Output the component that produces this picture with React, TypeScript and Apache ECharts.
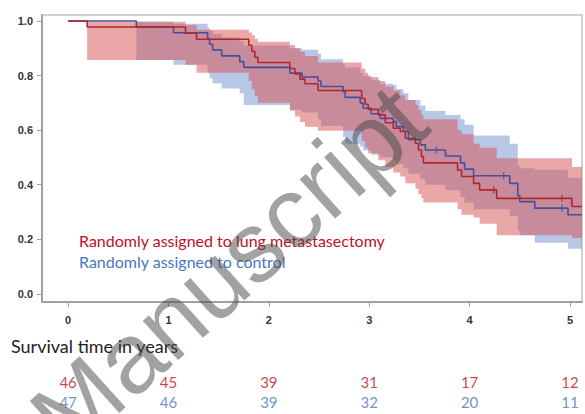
import React, { useEffect, useRef } from "react";
import * as echarts from "echarts";

// ---------- data ----------
const xTickValues = [0, 1, 2, 3, 4, 5];
const yTickValues = [0, 0.2, 0.4, 0.6, 0.8, 1.0];

// Randomly assigned to lung metastasectomy (red)
const redTime = [0, 0.19, 1.17, 1.28, 1.8, 1.83, 1.86, 1.89, 2.21, 2.26, 2.31, 2.36, 2.49, 2.925, 2.96, 2.99, 3.09, 3.16, 3.24, 3.31, 3.36, 3.46, 3.49, 3.52, 3.54, 3.88, 3.92, 4.04, 4.1, 4.27, 5.02, 5.12];
const redSurv = [1.0, 0.978, 0.955, 0.933, 0.911, 0.889, 0.867, 0.848, 0.826, 0.806, 0.787, 0.77, 0.745, 0.716, 0.695, 0.676, 0.656, 0.627, 0.607, 0.595, 0.57, 0.552, 0.527, 0.503, 0.48, 0.454, 0.43, 0.405, 0.381, 0.35, 0.32, 0.32];
const redLower = [1.0, 0.857, 0.84, 0.81, 0.78, 0.75, 0.725, 0.7, 0.672, 0.65, 0.63, 0.612, 0.598, 0.56, 0.535, 0.515, 0.49, 0.466, 0.445, 0.43, 0.405, 0.385, 0.365, 0.35, 0.335, 0.31, 0.29, 0.28, 0.257, 0.215, 0.205, 0.205];
const redUpper = [1.0, 0.997, 0.985, 0.968, 0.958, 0.948, 0.935, 0.924, 0.912, 0.9, 0.887, 0.872, 0.848, 0.825, 0.81, 0.795, 0.78, 0.76, 0.745, 0.728, 0.71, 0.692, 0.674, 0.655, 0.64, 0.6, 0.585, 0.55, 0.535, 0.497, 0.465, 0.465];

// Randomly assigned to control (blue)
const blueTime = [0, 0.68, 1.05, 1.39, 1.41, 1.44, 1.53, 1.71, 1.75, 2.21, 2.33, 2.49, 2.52, 2.74, 2.76, 2.91, 2.94, 3.02, 3.11, 3.24, 3.27, 3.34, 3.39, 3.51, 3.56, 3.76, 3.91, 3.95, 4.04, 4.4, 4.48, 4.5, 4.65, 4.98, 5.12];
const blueSurv = [1.0, 0.979, 0.957, 0.936, 0.915, 0.894, 0.872, 0.851, 0.83, 0.809, 0.795, 0.78, 0.76, 0.741, 0.72, 0.7, 0.68, 0.66, 0.643, 0.631, 0.613, 0.595, 0.565, 0.546, 0.527, 0.505, 0.48, 0.457, 0.433, 0.405, 0.36, 0.338, 0.314, 0.29, 0.29];
const blueLower = [1.0, 0.857, 0.84, 0.81, 0.79, 0.772, 0.753, 0.735, 0.692, 0.674, 0.665, 0.64, 0.615, 0.575, 0.55, 0.54, 0.525, 0.51, 0.5, 0.49, 0.475, 0.46, 0.44, 0.42, 0.4, 0.38, 0.355, 0.335, 0.31, 0.285, 0.23, 0.215, 0.187, 0.165, 0.165];
const blueUpper = [1.0, 0.997, 0.99, 0.975, 0.965, 0.952, 0.94, 0.925, 0.91, 0.9, 0.895, 0.88, 0.86, 0.84, 0.83, 0.81, 0.8, 0.785, 0.77, 0.765, 0.75, 0.735, 0.71, 0.69, 0.67, 0.655, 0.64, 0.62, 0.58, 0.55, 0.47, 0.46, 0.455, 0.425, 0.425];

const redCensorTime = [4.24, 4.92];
const redCensorSurv = [0.381, 0.35];
const blueCensorTime = [3.67, 4.34, 4.92];
const blueCensorSurv = [0.527, 0.433, 0.314];

// number at risk
const riskTimes = [0, 1, 2, 3, 4, 5];
const riskRed = [46, 45, 39, 31, 17, 12];
const riskBlue = [47, 46, 39, 32, 20, 11];

const legendRed = "Randomly assigned to lung metastasectomy";
const legendBlue = "Randomly assigned to control";
const xTitle = "Survival time in years";
const watermark = "Manuscript";

// ---------- styles ----------
const RED_LINE = "#b3262b";
const BLUE_LINE = "#44509c";
const RED_TEXT = "#c0121c";
const BLUE_TEXT = "#4a78bd";
const SANS = "Lato, 'Noto Sans', sans-serif";

const pts = (t: number[], v: number[]) => t.map((x, i) => [x, v[i]]);

// stepped confidence band drawn as one polygon through the axis scales
function band(name: string, t: number[], lo: number[], hi: number[], color: string, opacity: number): any {
  return {
    type: "custom", name, silent: true, z: 1,
    data: t.map((x, i) => [x, lo[i], hi[i]]),
    encode: { x: 0, y: [1, 2] },
    renderItem: (params: any, api: any) => {
      if (params.dataIndex !== 0) return null;
      const n = t.length;
      const top: number[][] = [];
      const bottom: number[][] = [];
      for (let i = 0; i < n; i++) {
        const x0 = t[i];
        const x1 = i < n - 1 ? t[i + 1] : t[i];
        top.push(api.coord([x0, hi[i]]), api.coord([x1, hi[i]]));
        bottom.push(api.coord([x0, lo[i]]), api.coord([x1, lo[i]]));
      }
      const points = top.concat(bottom.reverse());
      return { type: "polygon", shape: { points }, style: { fill: color, opacity } };
    },
  };
}

function kmLine(name: string, t: number[], s: number[], color: string): any {
  return {
    type: "line", name, data: pts(t, s), step: "end", symbol: "none",
    lineStyle: { color, width: 1.6 }, z: 3, silent: true, emphasis: { disabled: true },
  };
}

function censor(name: string, t: number[], s: number[], color: string): any {
  return {
    type: "scatter", name, data: pts(t, s), symbol: "rect", symbolSize: [1.4, 7],
    itemStyle: { color }, z: 4, silent: true,
  };
}

function riskRow(label: string, counts: number[], color: string): any {
  return {
    type: "scatter", xAxisIndex: 1, yAxisIndex: 1, symbolSize: 0,
    data: riskTimes.map((t, i) => [t, label, counts[i]]),
    label: {
      show: true, position: "inside", formatter: (p: any) => String(p.value[2]),
      color, fontSize: 15, fontFamily: SANS,
    },
    silent: true,
  };
}

export default function App() {
  const ref = useRef<HTMLDivElement>(null);
  useEffect(() => {
    if (!ref.current) return;
    const chart = echarts.init(ref.current, null, { renderer: "svg" });
    const axisLabelStyle = { color: "#333", fontWeight: "bold" as const, fontSize: 11, fontFamily: "'Liberation Sans', Arial, sans-serif" };
    chart.setOption({
      animation: false,
      backgroundColor: "#ffffff",
      grid: [
        { left: 42, right: 3, top: 15, bottom: 112, show: true, borderColor: "#c4c4c4", borderWidth: 1.5, backgroundColor: "transparent" },
        { left: 42, right: 3, top: 372, height: 40 },
      ],
      xAxis: [
        {
          type: "value", min: -0.26, max: 5.12, gridIndex: 0,
          axisLine: { show: true, onZero: false, lineStyle: { color: "#a0a0a0", width: 2 } },
          axisTick: { show: true, customValues: xTickValues, length: 5, lineStyle: { color: "#a0a0a0" } },
          axisLabel: { customValues: xTickValues, formatter: (v: number) => String(v), margin: 12, ...axisLabelStyle },
          splitLine: { show: false },
        },
        { type: "value", min: -0.26, max: 5.12, gridIndex: 1, show: false },
      ],
      yAxis: [
        {
          type: "value", min: -0.03, max: 1.022, gridIndex: 0,
          axisLine: { show: true, onZero: false, lineStyle: { color: "#a0a0a0", width: 2 } },
          axisTick: { show: true, customValues: yTickValues, length: 5, lineStyle: { color: "#a0a0a0" } },
          axisLabel: { customValues: yTickValues, formatter: (v: number) => v.toFixed(1), margin: 9, ...axisLabelStyle },
          splitLine: { show: false },
        },
        { type: "category", data: ["control", "surgery"], gridIndex: 1, show: false },
      ],
      series: [
        band("controlBand", blueTime, blueLower, blueUpper, "#6482c8", 0.45),
        band("surgeryBand", redTime, redLower, redUpper, "#d65050", 0.5),
        kmLine("control", blueTime, blueSurv, BLUE_LINE),
        kmLine("surgery", redTime, redSurv, RED_LINE),
        censor("controlCensor", blueCensorTime, blueCensorSurv, BLUE_LINE),
        censor("surgeryCensor", redCensorTime, redCensorSurv, RED_LINE),
        riskRow("surgery", riskRed, RED_TEXT),
        riskRow("control", riskBlue, BLUE_TEXT),
      ],
      graphic: [
        { type: "text", x: 79, y: 240, silent: true, style: { text: legendRed, fill: RED_TEXT, font: `16px ${SANS}`, align: "left", verticalAlign: "middle" } },
        { type: "text", x: 79, y: 261, silent: true, style: { text: legendBlue, fill: BLUE_TEXT, font: `16px ${SANS}`, align: "left", verticalAlign: "middle" } },
        { type: "text", x: 11, y: 346, silent: true, style: { text: xTitle, fill: "#222", font: `18px ${SANS}`, align: "left", verticalAlign: "middle" } },
        {
          type: "text", x: 228, y: 268, rotation: (42 * Math.PI) / 180, silent: true, z: 100,
          style: { text: watermark, fill: "rgba(70,70,70,0.5)", font: "100px 'Liberation Sans', Arial, sans-serif", align: "center", verticalAlign: "middle" },
        },
      ],
    });
    return () => chart.dispose();
  }, []);
  return <div ref={ref} style={{ position: "fixed", left: 0, top: 0, width: 585, height: 414, background: "#fff" }} />;
}
